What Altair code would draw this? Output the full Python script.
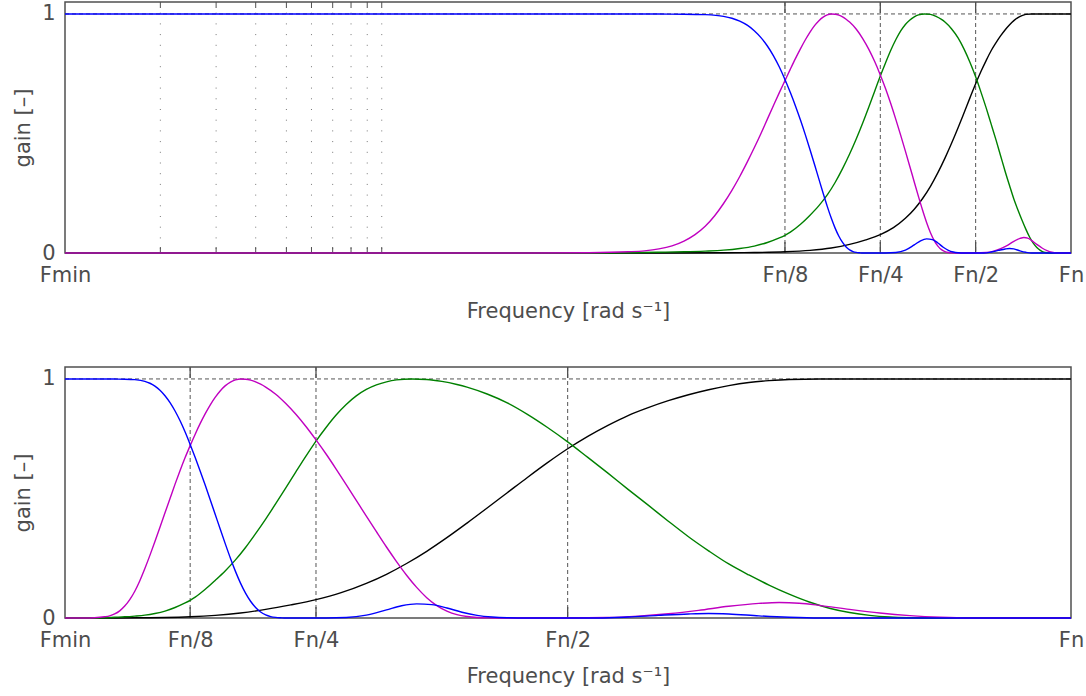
import altair as alt
import pandas as pd

# Frequencies are in units of the Nyquist frequency (Fn = 1).
F_MIN = 1 / 1500

# Gain of the four bands of the filter bank
low_freq = [F_MIN, 0.02, 0.04, 0.05, 0.06, 0.07, 0.08, 0.085, 0.09, 0.095, 0.10, 0.105, 0.11,
            0.115, 0.12, 0.125, 0.13, 0.135, 0.14, 0.145, 0.15, 0.155, 0.16, 0.165, 0.17,
            0.175, 0.18, 0.185, 0.19, 0.195, 0.20, 0.205, 0.21, 0.215, 0.22, 0.26, 0.28, 0.30,
            0.32, 0.335, 0.35, 0.365, 0.38, 0.395, 0.41, 0.425, 0.44, 0.46, 0.53, 0.56, 0.59,
            0.62, 0.64, 0.66, 0.69, 0.72, 0.75, 1.0]
low_gain = [1.0, 1.0, 1.0, 0.9995, 0.999, 0.997, 0.99, 0.982, 0.97, 0.953, 0.93, 0.901, 0.866,
            0.825, 0.778, 0.726, 0.671, 0.614, 0.555, 0.494, 0.432, 0.37, 0.309, 0.25, 0.195,
            0.146, 0.104, 0.07, 0.044, 0.025, 0.013, 0.006, 0.0025, 0.001, 0.0, 0.0, 0.002,
            0.012, 0.034, 0.051, 0.059, 0.056, 0.042, 0.024, 0.011, 0.004, 0.001, 0.0, 0.0,
            0.004, 0.011, 0.017, 0.019, 0.017, 0.009, 0.003, 0.0, 0.0]

band1_freq = [F_MIN, 0.02, 0.03, 0.04, 0.045, 0.05, 0.055, 0.06, 0.065, 0.07, 0.075, 0.08,
              0.085, 0.09, 0.095, 0.10, 0.105, 0.11, 0.115, 0.12, 0.125, 0.13, 0.135, 0.14,
              0.145, 0.15, 0.155, 0.16, 0.165, 0.17, 0.175, 0.18, 0.185, 0.19, 0.195, 0.20,
              0.21, 0.22, 0.23, 0.24, 0.25, 0.26, 0.27, 0.28, 0.29, 0.30, 0.31, 0.32, 0.33,
              0.34, 0.35, 0.36, 0.37, 0.38, 0.39, 0.40, 0.41, 0.42, 0.43, 0.50, 0.54, 0.57,
              0.60, 0.63, 0.66, 0.69, 0.71, 0.73, 0.75, 0.78, 0.81, 0.84, 0.87, 0.90, 1.0]
band1_gain = [0.0, 0.0, 0.001, 0.005, 0.009, 0.017, 0.03, 0.05, 0.077, 0.112, 0.156, 0.207,
              0.262, 0.32, 0.38, 0.44, 0.5, 0.56, 0.617, 0.671, 0.721, 0.769, 0.814, 0.855,
              0.892, 0.924, 0.951, 0.972, 0.987, 0.996, 1.0, 0.999, 0.995, 0.988, 0.978, 0.966,
              0.936, 0.897, 0.852, 0.801, 0.745, 0.686, 0.623, 0.558, 0.492, 0.426, 0.361,
              0.297, 0.236, 0.179, 0.128, 0.085, 0.052, 0.029, 0.014, 0.006, 0.002, 0.0005,
              0.0, 0.0, 0.002, 0.008, 0.018, 0.032, 0.049, 0.061, 0.065, 0.062, 0.053, 0.036,
              0.021, 0.01, 0.003, 0.0, 0.0]

band2_freq = [F_MIN, 0.03, 0.04, 0.05, 0.06, 0.07, 0.08, 0.09, 0.10, 0.11, 0.12, 0.125, 0.13,
              0.14, 0.15, 0.16, 0.17, 0.18, 0.19, 0.20, 0.21, 0.22, 0.23, 0.24, 0.25, 0.26,
              0.27, 0.28, 0.29, 0.30, 0.31, 0.32, 0.33, 0.345, 0.36, 0.375, 0.39, 0.40, 0.42,
              0.44, 0.46, 0.48, 0.50, 0.52, 0.54, 0.56, 0.58, 0.60, 0.62, 0.64, 0.66, 0.68,
              0.70, 0.72, 0.74, 0.76, 0.78, 0.80, 0.82, 0.84, 0.86, 1.0]
band2_gain = [0.0, 0.0, 0.001, 0.003, 0.005, 0.008, 0.012, 0.019, 0.029, 0.044, 0.063, 0.074,
              0.087, 0.12, 0.158, 0.198, 0.243, 0.295, 0.353, 0.414, 0.478, 0.544, 0.611,
              0.677, 0.74, 0.797, 0.849, 0.893, 0.929, 0.956, 0.975, 0.988, 0.996, 1.0, 0.998,
              0.99, 0.977, 0.966, 0.937, 0.9, 0.852, 0.797, 0.737, 0.672, 0.606, 0.538, 0.472,
              0.405, 0.34, 0.281, 0.226, 0.18, 0.138, 0.1, 0.067, 0.041, 0.023, 0.011, 0.004,
              0.001, 0.0, 0.0]

high_freq = [F_MIN, 0.05, 0.08, 0.10, 0.125, 0.15, 0.175, 0.20, 0.225, 0.25, 0.275, 0.30,
             0.32, 0.34, 0.36, 0.38, 0.40, 0.42, 0.44, 0.46, 0.48, 0.50, 0.52, 0.54, 0.56,
             0.58, 0.60, 0.62, 0.64, 0.66, 0.68, 0.70, 0.72, 0.75, 1.0]
high_gain = [0.0, 0.0, 0.001, 0.002, 0.005, 0.011, 0.021, 0.036, 0.055, 0.077, 0.106, 0.145,
             0.183, 0.228, 0.279, 0.336, 0.397, 0.46, 0.524, 0.588, 0.65, 0.708, 0.76, 0.806,
             0.847, 0.88, 0.909, 0.934, 0.955, 0.972, 0.985, 0.993, 0.998, 1.0, 1.0]

# Drawn back to front
bands = [
    (high_freq, high_gain, "#000000"),
    (band2_freq, band2_gain, "#008000"),
    (band1_freq, band1_gain, "#c000c0"),
    (low_freq, low_gain, "#0000ff"),
]

# Axis ticks and grid
tick_freqs = [F_MIN, 1 / 8, 1 / 4, 1 / 2, 1.0]
tick_labels = ["Fmin", "Fn/8", "Fn/4", "Fn/2", "Fn"]
grid_freqs = [1 / 8, 1 / 4, 1 / 2]
minor_multiples = [2, 3, 4, 5, 6, 7, 8, 9, 10]   # k * Fmin, log panel only
gain_ticks = [0, 1]

PANEL_W, PANEL_H = 1006, 251
FONT = "DejaVu Sans"
TEXT = "#4d4d4d"
BOX = "#505050"
GRID = "#555555"

label_expr = " : ".join(
    f"abs(datum.value - {v!r}) < 1e-9 ? '{t}'" for v, t in zip(tick_freqs, tick_labels)
) + " : ''"

X_AXIS = alt.Axis(values=tick_freqs, labelExpr=label_expr,
                  title="Frequency [rad s\u207b\u00b9]",
                  labelPadding=11, titlePadding=15,
                  labelFlush=False, labelOverlap=False)
Y_AXIS = alt.Axis(values=gain_ticks, format="d", title="gain [\u2013]",
                  labelPadding=10, titlePadding=8)


def panel(scale_type):
    x_scale = alt.Scale(type=scale_type, domain=[F_MIN, 1.0], nice=False, zero=False)
    y_scale = alt.Scale(domain=[0, 1.05], nice=False, zero=False)

    def xenc():
        return alt.X("freq:Q", scale=x_scale, axis=X_AXIS)

    grid_df = pd.DataFrame({"freq": grid_freqs})
    layers = []

    # horizontal dashed grid line at gain 1
    layers.append(
        alt.Chart(pd.DataFrame({"freq": [F_MIN, 1.0], "gain": [1.0, 1.0]}))
        .mark_line(color=GRID, strokeWidth=1, strokeDash=[4, 3])
        .encode(x=xenc(), y=alt.Y("gain:Q", scale=y_scale, axis=Y_AXIS))
    )

    # dotted minor grid of the log panel
    if scale_type == "log":
        minor_df = pd.DataFrame({"freq": [F_MIN * k for k in minor_multiples]})
        layers.append(
            alt.Chart(minor_df).mark_rule(color="#777777", strokeWidth=1, strokeDash=[1, 9.7])
            .encode(x=xenc())
        )
        for y0, y1 in [(0, 6), (PANEL_H - 6, PANEL_H)]:
            layers.append(
                alt.Chart(minor_df).mark_rule(color=BOX, strokeWidth=1)
                .encode(x=xenc(), y=alt.value(y0), y2=alt.value(y1))
            )

    # dashed major grid and inward tick marks
    layers.append(
        alt.Chart(grid_df).mark_rule(color=GRID, strokeWidth=1, strokeDash=[4, 3])
        .encode(x=xenc())
    )
    for y0, y1 in [(0, 11), (PANEL_H - 11, PANEL_H)]:
        layers.append(
            alt.Chart(grid_df).mark_rule(color=BOX, strokeWidth=1.3)
            .encode(x=xenc(), y=alt.value(y0), y2=alt.value(y1))
        )

    for freq, gain, color in bands:
        layers.append(
            alt.Chart(pd.DataFrame({"freq": freq, "gain": gain}))
            .mark_line(color=color, strokeWidth=1.4, interpolate="monotone")
            .encode(x=xenc(), y=alt.Y("gain:Q", scale=y_scale, axis=Y_AXIS))
        )

    return alt.layer(*layers).properties(width=PANEL_W, height=PANEL_H)


chart = (
    alt.vconcat(panel("log"), panel("linear"), spacing=43)
    .properties(padding={"left": 11, "top": 0, "right": 0, "bottom": 0}, background="white")
    .configure_view(stroke=BOX, strokeWidth=1.5)
    .configure_axis(
        labelFont=FONT, titleFont=FONT, labelFontSize=21, titleFontSize=21,
        labelColor=TEXT, titleColor=TEXT, titleFontWeight="normal",
        domain=False, ticks=False, grid=False,
    )
)

chart.save("out.html", embed_options={"renderer": "svg", "actions": False})
